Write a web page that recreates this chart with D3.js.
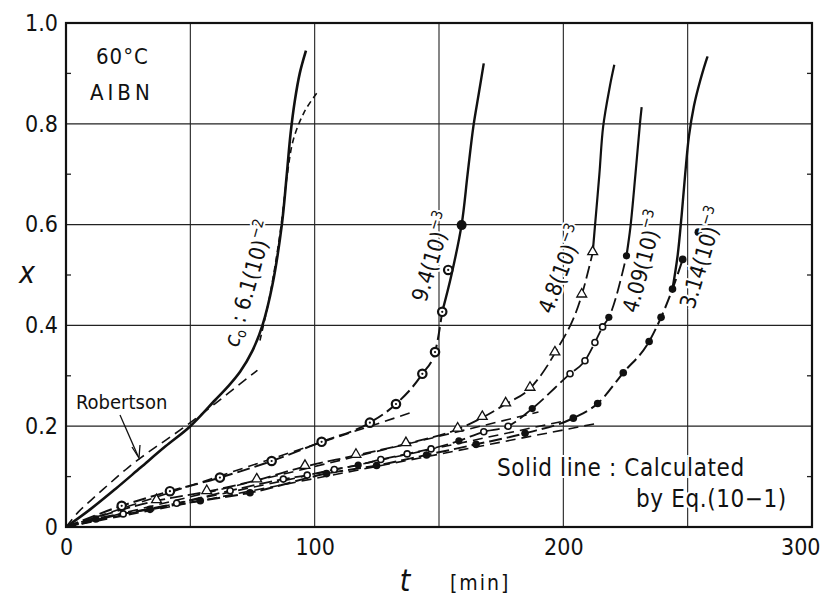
<!DOCTYPE html>
<html>
<head>
<meta charset="utf-8">
<script src="https://cdn.jsdelivr.net/npm/d3@7"></script>
<style>
  body { margin: 0; background: #fff; }
  svg text { font-family: "DejaVu Sans Condensed", "DejaVu Sans", sans-serif; fill: #111; }
</style>
</head>
<body>
<div id="container"></div>
<script>
const w = 822;
const h = 597;
const margin = {left: 66, right: 10, top: 23, bottom: 70};

// axis ticks
const xTicks = [0, 100, 200, 300];
const xGrid = [50, 100, 150, 200, 250];
const yTicks = [0, 0.2, 0.4, 0.6, 0.8, 1.0];
const yMinor = [0.1, 0.3, 0.5, 0.7, 0.9];

// c0 = 6.1(10)^-2 : calculated (solid) and Robertson (dashed)
const aSolidT = [0, 10, 20, 30, 40, 50, 60, 65, 70, 75, 79, 83, 86.8, 88.8, 90.3, 92, 94, 96.5];
const aSolidX = [0, 0.036, 0.076, 0.118, 0.16, 0.2, 0.252, 0.278, 0.308, 0.35, 0.4, 0.48, 0.6, 0.7, 0.78, 0.845, 0.9, 0.945];
const robT = [0, 5, 10, 15, 20, 25, 30, 35, 40, 50, 60, 70, 77];
const robX = [0, 0.03, 0.053, 0.075, 0.097, 0.118, 0.137, 0.155, 0.172, 0.207, 0.245, 0.284, 0.311];
const aDashT = [78, 82, 86, 89, 91.5, 96, 101];
const aDashX = [0.37, 0.46, 0.58, 0.7, 0.77, 0.825, 0.862];

// c0 = 9.4(10)^-3
const bT = [22.4, 41.8, 61.9, 82.7, 102.8, 122.2, 132.7, 143.3, 148.4, 151.3, 153.7];
const bX = [0.042, 0.071, 0.098, 0.131, 0.169, 0.207, 0.244, 0.304, 0.347, 0.427, 0.51];
const bFillT = [159.1];
const bFillX = [0.599];
const bCalcT = [151.3, 155, 159.1, 161.5, 163.8, 166, 168];
const bCalcX = [0.427, 0.5, 0.6, 0.7, 0.794, 0.86, 0.92];
const bLineT = [0, 140];
const bLineX = [0, 0.229];

// c0 = 4.8(10)^-3
const cT = [36.4, 56.6, 76.7, 96.1, 116.6, 136.7, 157.5, 167.4, 176.8, 186.6, 196.6, 207.4, 211.8];
const cX = [0.052, 0.07, 0.093, 0.12, 0.142, 0.165, 0.194, 0.217, 0.244, 0.275, 0.345, 0.46, 0.544];
const cCalcT = [211.8, 212.7, 214.5, 216, 218.7, 220.5];
const cCalcX = [0.544, 0.596, 0.7, 0.794, 0.874, 0.917];
const cLineT = [0, 190];
const cLineX = [0, 0.228];

// c0 = 4.09(10)^-3
const dT = [23, 44.5, 66, 87.4, 97, 107.9, 126.6, 137.2, 146.8, 168, 177.8, 202.7, 208.7, 212.7, 215.8];
const dX = [0.026, 0.047, 0.072, 0.095, 0.103, 0.114, 0.134, 0.145, 0.155, 0.189, 0.2, 0.304, 0.33, 0.366, 0.397];
const dFillT = [117.5, 158, 187.5, 218.3, 225.4];
const dFillX = [0.123, 0.171, 0.235, 0.416, 0.538];
const dCalcT = [225.4, 227, 229, 230.8, 231.5];
const dCalcX = [0.538, 0.596, 0.7, 0.8, 0.833];
const dLineT = [0, 200];
const dLineX = [0, 0.21];

// c0 = 3.14(10)^-3
const eT = [12, 33.8, 54, 74, 104.8, 124.9, 145, 164.9, 184.6, 204, 213.8, 224.1, 234.5, 239.3, 243.9, 248, 254.3];
const eX = [0.016, 0.035, 0.052, 0.068, 0.106, 0.122, 0.143, 0.164, 0.186, 0.216, 0.245, 0.306, 0.368, 0.416, 0.472, 0.531, 0.585];
const eCalcT = [243.9, 246, 247.6, 249, 250.5, 252.5, 255, 258];
const eCalcX = [0.472, 0.54, 0.62, 0.7, 0.775, 0.835, 0.885, 0.934];
const eLineT = [0, 214];
const eLineX = [0, 0.206];

const zip = (ts, xs) => ts.map((t, i) => [t, xs[i]]);

const svg = d3.select("#container").append("svg")
  .attr("width", w).attr("height", h);
svg.append("rect").attr("width", w).attr("height", h).attr("fill", "#fff");

const scalex = d3.scaleLinear().domain([0, 300]).range([margin.left, 812]);
const scaley = d3.scaleLinear().domain([0, 1]).range([527, margin.top]);

// grid
svg.append("g").selectAll("line").data(xGrid).enter().append("line")
  .attr("x1", d => scalex(d)).attr("x2", d => scalex(d))
  .attr("y1", scaley(0)).attr("y2", scaley(1))
  .attr("stroke", "#222").attr("stroke-width", 1.1);
svg.append("g").selectAll("line").data(yTicks.slice(1, -1)).enter().append("line")
  .attr("x1", scalex(0)).attr("x2", scalex(300))
  .attr("y1", d => scaley(d)).attr("y2", d => scaley(d))
  .attr("stroke", "#222").attr("stroke-width", 1.3);

// minor ticks left and right
svg.append("g").selectAll("line").data(yMinor).enter().append("line")
  .attr("x1", scalex(0)).attr("x2", scalex(0) + 5)
  .attr("y1", d => scaley(d)).attr("y2", d => scaley(d))
  .attr("stroke", "#222").attr("stroke-width", 1.3);
svg.append("g").selectAll("line").data(yMinor).enter().append("line")
  .attr("x1", scalex(300)).attr("x2", scalex(300) - 5)
  .attr("y1", d => scaley(d)).attr("y2", d => scaley(d))
  .attr("stroke", "#222").attr("stroke-width", 1.3);

// frame
svg.append("rect")
  .attr("x", scalex(0)).attr("y", scaley(1))
  .attr("width", scalex(300) - scalex(0)).attr("height", scaley(0) - scaley(1))
  .attr("fill", "none").attr("stroke", "#111").attr("stroke-width", 2.2);

// axes (labels only)
const axisx = d3.axisBottom(scalex).tickValues(xTicks).tickSize(0).tickPadding(12)
  .tickFormat(d3.format("d"));
const xAxisGroup = svg.append("g").attr("transform", `translate(0,${scaley(0)})`).call(axisx);
xAxisGroup.select(".domain").remove();
xAxisGroup.selectAll("text").attr("font-size", 23).attr("fill", "#111")
  .attr("text-anchor", d => d === 300 ? "end" : "middle")
  .attr("dx", d => d === 300 ? 8 : 0);

const axisy = d3.axisLeft(scaley).tickValues(yTicks).tickSize(0).tickPadding(8)
  .tickFormat(d => d === 0 ? "0" : d3.format(".1f")(d));
const yAxisGroup = svg.append("g").attr("transform", `translate(${scalex(0)},0)`).call(axisy);
yAxisGroup.select(".domain").remove();
yAxisGroup.selectAll("text").attr("font-size", 23).attr("fill", "#111");

// axis titles
svg.append("text").attr("x", 27).attr("y", 283).attr("font-size", 30)
  .attr("font-style", "italic").attr("font-family", "DejaVu Serif").attr("text-anchor", "middle").text("x");
svg.append("text").attr("x", 405).attr("y", 591).attr("font-size", 30)
  .attr("font-style", "italic").attr("font-family", "DejaVu Serif").attr("text-anchor", "middle").text("t");
svg.append("text").attr("x", 450).attr("y", 590).attr("font-size", 21).attr("letter-spacing", 2).text("[min]");

const line = d3.line().x(d => scalex(d[0])).y(d => scaley(d[1])).curve(d3.curveMonotoneX);
const lineSteep = d3.line().x(d => scalex(d[0])).y(d => scaley(d[1])).curve(d3.curveCatmullRom.alpha(0.5));
const lineStraight = d3.line().x(d => scalex(d[0])).y(d => scaley(d[1]));

function drawPath(data, width, dash, gen) {
  svg.append("path").datum(data)
    .attr("d", gen || line)
    .attr("fill", "none").attr("stroke", "#111")
    .attr("stroke-width", width)
    .attr("stroke-linecap", "butt")
    .attr("stroke-dasharray", dash || null);
}

const chain = "13,5";
const dashed = "10,6";

// straight initial-rate lines
drawPath(zip(bLineT, bLineX), 1.6, dashed, lineStraight);
drawPath(zip(cLineT, cLineX), 1.6, dashed, lineStraight);
drawPath(zip(dLineT, dLineX), 1.6, dashed, lineStraight);
drawPath(zip(eLineT, eLineX), 1.6, dashed, lineStraight);

// curve A
drawPath(zip(robT, robX), 1.6, dashed);
drawPath(zip(aDashT, aDashX), 1.6, "6,4", lineSteep);
drawPath(zip(aSolidT, aSolidX), 2.6, null, lineSteep);

// experimental chain lines
drawPath([[0, 0]].concat(zip(bT, bX).slice(0, 10)), 2, chain);
drawPath([[0, 0]].concat(zip(cT, cX)), 1.8, chain);
drawPath([[0, 0]].concat(zip(dT, dX).concat(zip(dFillT, dFillX)).sort((a, b) => a[0] - b[0])), 1.8, chain);
drawPath([[0, 0]].concat(zip(eT, eX).slice(0, 16)), 2, chain);

// calculated solid
drawPath(zip(bCalcT, bCalcX), 2.4, null, lineSteep);
drawPath(zip(cCalcT, cCalcX), 2.2, null, lineSteep);
drawPath(zip(dCalcT, dCalcX), 2.2, null, lineSteep);
drawPath(zip(eCalcT, eCalcX), 2.4, null, lineSteep);

// markers
const mk = svg.append("g");
mk.selectAll(".b").data(zip(bT, bX)).enter().append("circle")
  .attr("cx", d => scalex(d[0])).attr("cy", d => scaley(d[1])).attr("r", 4.2)
  .attr("fill", "#fff").attr("stroke", "#111").attr("stroke-width", 2.2);
mk.selectAll(".bc").data(zip(bT, bX)).enter().append("circle")
  .attr("cx", d => scalex(d[0])).attr("cy", d => scaley(d[1])).attr("r", 1.1).attr("fill", "#111");
mk.selectAll(".bf").data(zip(bFillT, bFillX)).enter().append("circle")
  .attr("cx", d => scalex(d[0])).attr("cy", d => scaley(d[1])).attr("r", 5).attr("fill", "#111");
const tri = d3.symbol().type(d3.symbolTriangle).size(42);
mk.selectAll(".c").data(zip(cT, cX)).enter().append("path")
  .attr("d", tri)
  .attr("transform", d => `translate(${scalex(d[0])},${scaley(d[1]) - 1})`)
  .attr("fill", "#fff").attr("stroke", "#111").attr("stroke-width", 1.3);
mk.selectAll(".d").data(zip(dT, dX)).enter().append("circle")
  .attr("cx", d => scalex(d[0])).attr("cy", d => scaley(d[1])).attr("r", 3)
  .attr("fill", "#fff").attr("stroke", "#111").attr("stroke-width", 1.6);
mk.selectAll(".df").data(zip(dFillT, dFillX)).enter().append("circle")
  .attr("cx", d => scalex(d[0])).attr("cy", d => scaley(d[1])).attr("r", 3.6).attr("fill", "#111");
mk.selectAll(".e").data(zip(eT, eX)).enter().append("circle")
  .attr("cx", d => scalex(d[0])).attr("cy", d => scaley(d[1])).attr("r", 3.8).attr("fill", "#111");

// labels with white halo (cuts grid lines as in original)
function label(x, y, rot, size, parts) {
  const t = svg.append("text")
    .attr("transform", `translate(${x},${y}) rotate(${rot})`)
    .attr("font-size", size)
    .attr("stroke", "#fff").attr("stroke-width", 4).attr("paint-order", "stroke");
  parts.forEach(p => {
    t.append("tspan").text(p.s)
      .attr("dy", p.dy || 0)
      .attr("font-size", p.fs || size)
      .attr("font-style", p.it ? "italic" : null);
  });
}
label(238, 348, -74, 22, [{s: "c", it: true}, {s: "o", fs: 14, dy: 4}, {s: " : 6.1(10)", dy: -4}, {s: "−2", fs: 15, dy: -10}]);
label(426, 303, -73, 22, [{s: "9.4(10)"}, {s: "−3", fs: 15, dy: -10}]);
label(552, 315, -69, 22, [{s: "4.8(10)"}, {s: "−3", fs: 15, dy: -10}]);
label(637, 314, -75, 22, [{s: "4.09(10)"}, {s: "−3", fs: 15, dy: -10}]);
label(694, 310, -73, 22, [{s: "3.14(10)"}, {s: "−3", fs: 15, dy: -10}]);

svg.append("text").attr("x", 96).attr("y", 64).attr("font-size", 22).attr("letter-spacing", 1).text("60°C");
svg.append("text").attr("x", 90).attr("y", 100).attr("font-size", 22).attr("letter-spacing", 4).text("AIBN");
svg.append("text").attr("x", 76).attr("y", 409).attr("font-size", 20).text("Robertson");
svg.append("line").attr("x1", 120).attr("y1", 415).attr("x2", 138).attr("y2", 456)
  .attr("stroke", "#111").attr("stroke-width", 1.3);
svg.append("path").attr("d", "M132,447 L139,458 L140,445")
  .attr("fill", "none").attr("stroke", "#111").attr("stroke-width", 1.3);

svg.append("text").attr("x", 497).attr("y", 476).attr("font-size", 24).attr("letter-spacing", 0.6)
  .attr("stroke", "#fff").attr("stroke-width", 4).attr("paint-order", "stroke").text("Solid line : Calculated");
svg.append("text").attr("x", 636).attr("y", 507).attr("font-size", 24).attr("letter-spacing", 0.6)
  .attr("stroke", "#fff").attr("stroke-width", 4).attr("paint-order", "stroke").text("by Eq.(10−1)");
</script>
</body>
</html>
